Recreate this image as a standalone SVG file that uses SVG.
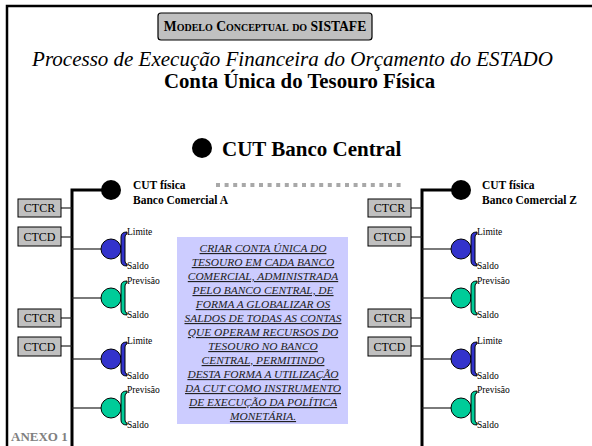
<svg xmlns="http://www.w3.org/2000/svg" width="592" height="446" viewBox="0 0 592 446">
<defs>
<style>
text{font-family:"Liberation Serif","Times New Roman",Times,serif}
.frame{fill:none;stroke:#000;stroke-width:2.5}
.box{fill:#c0c0c0;stroke:#000;stroke-width:1}
.boxt{font-size:12px;fill:#000;text-anchor:middle}
.trunk{stroke:#000;stroke-width:3;fill:none}
.thin{stroke:#222;stroke-width:1.2;fill:none}
.lbl{font-size:9.5px;fill:#000}
.cut{font-size:11.5px;font-weight:bold;fill:#000}
.blue{fill:#3333cc;stroke:#000;stroke-width:1}
.teal{fill:#00cc99;stroke:#000;stroke-width:1}
.note{font-size:11.4px;font-style:italic;text-decoration:underline;fill:#222;text-anchor:middle}
</style>
</defs>
<rect x="0" y="0" width="592" height="446" fill="#fff"/>
<path class="frame" d="M7,446 V6 H592"/>

<g id="header">
<rect x="158" y="13" width="214" height="27" rx="3" fill="#c0c0c0" stroke="#000" stroke-width="1.2"/>
<text x="265" y="31" font-size="13.6" font-weight="bold" font-variant="small-caps" text-anchor="middle">Modelo Conceptual do SISTAFE</text>
<text x="292.5" y="66" font-size="21" font-style="italic" text-anchor="middle">Processo de Execução Financeira do Orçamento do ESTADO</text>
<text x="299.5" y="88" font-size="20.8" font-weight="bold" text-anchor="middle">Conta Única do Tesouro Física</text>
</g>

<g id="cut-central">
<circle cx="202" cy="148" r="10" fill="#000"/>
<text x="222" y="156" font-size="21" font-weight="bold">CUT Banco Central</text>
</g>

<g id="connectors">
<line x1="216" y1="185" x2="404" y2="185" stroke="#a8a8a8" stroke-width="4" stroke-dasharray="4,4.6"/>
<path class="trunk" d="M72,446 V190 H104"/>
<line class="thin" x1="61" y1="208" x2="72" y2="208"/>
<line class="thin" x1="61" y1="237" x2="72" y2="237"/>
<line class="thin" x1="61" y1="318" x2="72" y2="318"/>
<line class="thin" x1="61" y1="346" x2="72" y2="346"/>
<line class="thin" x1="72" y1="249" x2="101" y2="249"/>
<line class="thin" x1="72" y1="298" x2="101" y2="298"/>
<line class="thin" x1="72" y1="359" x2="101" y2="359"/>
<line class="thin" x1="72" y1="408" x2="101" y2="408"/>
<path class="trunk" d="M422,446 V190 H454"/>
<line class="thin" x1="411" y1="208" x2="422" y2="208"/>
<line class="thin" x1="411" y1="237" x2="422" y2="237"/>
<line class="thin" x1="411" y1="318" x2="422" y2="318"/>
<line class="thin" x1="411" y1="346" x2="422" y2="346"/>
<line class="thin" x1="422" y1="249" x2="451" y2="249"/>
<line class="thin" x1="422" y1="298" x2="451" y2="298"/>
<line class="thin" x1="422" y1="359" x2="451" y2="359"/>
<line class="thin" x1="422" y1="408" x2="451" y2="408"/>
</g>

<g id="cut-a">
<circle cx="111" cy="190" r="10" fill="#000"/>
<text class="cut" x="133" y="189">CUT física</text>
<text class="cut" x="133" y="204">Banco Comercial A</text>
</g>
<g id="cut-z">
<circle cx="461" cy="190" r="10" fill="#000"/>
<text class="cut" x="482" y="189">CUT física</text>
<text class="cut" x="482" y="204">Banco Comercial Z</text>
</g>

<g id="ctcr-a1"><rect class="box" x="18" y="199" width="43" height="18"/><text class="boxt" x="39.5" y="212">CTCR</text></g>
<g id="ctcd-a1"><rect class="box" x="18" y="227" width="43" height="19"/><text class="boxt" x="39.5" y="241">CTCD</text></g>
<g id="ctcr-a2"><rect class="box" x="18" y="309" width="43" height="18"/><text class="boxt" x="39.5" y="322">CTCR</text></g>
<g id="ctcd-a2"><rect class="box" x="18" y="337" width="43" height="19"/><text class="boxt" x="39.5" y="351">CTCD</text></g>
<g id="ctcr-z1"><rect class="box" x="368" y="199" width="43" height="18"/><text class="boxt" x="389.5" y="212">CTCR</text></g>
<g id="ctcd-z1"><rect class="box" x="368" y="227" width="43" height="19"/><text class="boxt" x="389.5" y="241">CTCD</text></g>
<g id="ctcr-z2"><rect class="box" x="368" y="309" width="43" height="18"/><text class="boxt" x="389.5" y="322">CTCR</text></g>
<g id="ctcd-z2"><rect class="box" x="368" y="337" width="43" height="19"/><text class="boxt" x="389.5" y="351">CTCD</text></g>

<g id="limite-a1">
<circle class="blue" cx="111" cy="249" r="10"/>
<path class="blue" d="M127,232 Q121,232 121,237 V261 Q121,266 127,266 V264 Q125,264 125,261 V237 Q125,234 127,234 Z"/>
<text class="lbl" x="127" y="235">Limite</text><text class="lbl" x="127" y="269">Saldo</text>
</g>
<g id="previsao-a1">
<circle class="teal" cx="111" cy="298" r="10"/>
<path class="teal" d="M127,281 Q121,281 121,286 V310 Q121,315 127,315 V313 Q125,313 125,310 V286 Q125,283 127,283 Z"/>
<text class="lbl" x="127" y="284">Previsão</text><text class="lbl" x="127" y="318">Saldo</text>
</g>
<g id="limite-a2">
<circle class="blue" cx="111" cy="359" r="10"/>
<path class="blue" d="M127,342 Q121,342 121,347 V371 Q121,376 127,376 V374 Q125,374 125,371 V347 Q125,344 127,344 Z"/>
<text class="lbl" x="127" y="344">Limite</text><text class="lbl" x="127" y="379">Saldo</text>
</g>
<g id="previsao-a2">
<circle class="teal" cx="111" cy="408" r="10"/>
<path class="teal" d="M127,391 Q121,391 121,396 V420 Q121,425 127,425 V423 Q125,423 125,420 V396 Q125,393 127,393 Z"/>
<text class="lbl" x="127" y="393">Previsão</text><text class="lbl" x="127" y="428">Saldo</text>
</g>

<g id="limite-z1">
<circle class="blue" cx="461" cy="249" r="10"/>
<path class="blue" d="M477,232 Q471,232 471,237 V261 Q471,266 477,266 V264 Q475,264 475,261 V237 Q475,234 477,234 Z"/>
<text class="lbl" x="477" y="235">Limite</text><text class="lbl" x="477" y="269">Saldo</text>
</g>
<g id="previsao-z1">
<circle class="teal" cx="461" cy="298" r="10"/>
<path class="teal" d="M477,281 Q471,281 471,286 V310 Q471,315 477,315 V313 Q475,313 475,310 V286 Q475,283 477,283 Z"/>
<text class="lbl" x="477" y="284">Previsão</text><text class="lbl" x="477" y="318">Saldo</text>
</g>
<g id="limite-z2">
<circle class="blue" cx="461" cy="359" r="10"/>
<path class="blue" d="M477,342 Q471,342 471,347 V371 Q471,376 477,376 V374 Q475,374 475,371 V347 Q475,344 477,344 Z"/>
<text class="lbl" x="477" y="344">Limite</text><text class="lbl" x="477" y="379">Saldo</text>
</g>
<g id="previsao-z2">
<circle class="teal" cx="461" cy="408" r="10"/>
<path class="teal" d="M477,391 Q471,391 471,396 V420 Q471,425 477,425 V423 Q475,423 475,420 V396 Q475,393 477,393 Z"/>
<text class="lbl" x="477" y="393">Previsão</text><text class="lbl" x="477" y="428">Saldo</text>
</g>

<g id="note">
<rect x="177" y="237" width="171" height="187" fill="#ccccff"/>
<text class="note" x="263" y="252">CRIAR CONTA ÚNICA DO</text>
<text class="note" x="263" y="266">TESOURO EM CADA BANCO</text>
<text class="note" x="263" y="280">COMERCIAL, ADMINISTRADA</text>
<text class="note" x="263" y="294">PELO BANCO CENTRAL, DE</text>
<text class="note" x="263" y="308">FORMA A GLOBALIZAR OS</text>
<text class="note" x="263" y="322">SALDOS DE TODAS AS CONTAS</text>
<text class="note" x="263" y="336">QUE OPERAM RECURSOS DO</text>
<text class="note" x="263" y="350">TESOURO NO BANCO</text>
<text class="note" x="263" y="364">CENTRAL, PERMITINDO</text>
<text class="note" x="263" y="378">DESTA FORMA A UTILIZAÇÃO</text>
<text class="note" x="263" y="392">DA CUT COMO INSTRUMENTO</text>
<text class="note" x="263" y="406">DE EXECUÇÃO DA POLÍTICA</text>
<text class="note" x="263" y="420">MONETÁRIA.</text>
</g>

<g id="anexo">
<text x="11" y="441" font-size="13" font-weight="bold" fill="#808080">ANEXO 1</text>
</g>
</svg>
